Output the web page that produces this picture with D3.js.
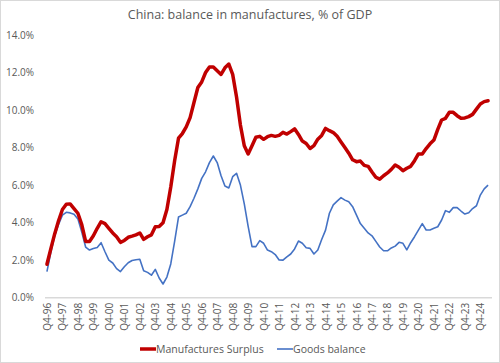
<!DOCTYPE html>
<html>
<head>
<meta charset="utf-8">
<script src="https://cdn.jsdelivr.net/npm/d3@7"></script>
<style>
  body { margin: 0; background: #fff; }
  svg { display: block; font-family: "Open Sans", "Liberation Sans", sans-serif; }
</style>
</head>
<body>
<div class="chart"></div>
<script>
// quarterly, Q4-96 onwards (% of GDP)
const manufSurplus = [
  1.78, 2.6, 3.4, 4.1, 4.7, 4.98, 5.0, 4.75, 4.5, 3.9,
  3.0, 3.0, 3.3, 3.7, 4.05, 3.95, 3.7, 3.45, 3.25, 2.95,
  3.05, 3.22, 3.28, 3.35, 3.45, 3.11, 3.25, 3.35, 3.78, 3.8,
  4.0, 4.7, 5.9, 7.3, 8.5, 8.75, 9.1, 9.6, 10.4, 11.2,
  11.5, 12.0, 12.3, 12.3, 12.1, 11.9, 12.25, 12.45, 11.9, 10.7,
  9.2, 8.1, 7.66, 8.1, 8.55, 8.6, 8.44, 8.58, 8.65, 8.6,
  8.65, 8.81, 8.72, 8.85, 9.0, 8.7, 8.35, 8.22, 7.95, 8.1,
  8.45, 8.65, 9.02, 8.9, 8.8, 8.6, 8.3, 8.0, 7.7, 7.35,
  7.25, 7.28, 7.05, 7.0, 6.7, 6.42, 6.32, 6.5, 6.65, 6.84,
  7.07, 6.95, 6.77, 6.9, 7.0, 7.3, 7.66, 7.66, 7.95, 8.2,
  8.4, 8.97, 9.47, 9.56, 9.88, 9.88, 9.7, 9.56, 9.58, 9.65,
  9.77, 10.05, 10.32, 10.45, 10.5
];
const goodsBalance = [
  1.39, 2.4, 3.3, 3.9, 4.4, 4.55, 4.52, 4.45, 4.2, 3.5,
  2.7, 2.54, 2.62, 2.68, 2.93, 2.45, 2.0, 1.85, 1.55, 1.39,
  1.65, 1.86, 1.98, 2.02, 2.05, 1.44, 1.35, 1.2, 1.51, 1.05,
  0.73, 1.1, 1.8, 3.0, 4.3, 4.4, 4.5, 4.85, 5.3, 5.8,
  6.36, 6.71, 7.2, 7.55, 7.2, 6.5, 5.95, 5.85, 6.45, 6.63,
  6.0, 5.0, 3.8, 2.72, 2.72, 3.04, 2.9, 2.54, 2.45, 2.3,
  2.01, 2.0, 2.18, 2.33, 2.6, 3.02, 2.9, 2.66, 2.63, 2.33,
  2.54, 3.1, 3.6, 4.5, 4.95, 5.15, 5.33, 5.2, 5.11, 4.85,
  4.4, 3.95, 3.7, 3.45, 3.3, 3.0, 2.7, 2.5, 2.5, 2.65,
  2.75, 2.95, 2.9, 2.55, 2.93, 3.25, 3.6, 3.95, 3.61, 3.61,
  3.7, 3.78, 4.14, 4.64, 4.55, 4.8, 4.8, 4.62, 4.46, 4.53,
  4.75, 4.9, 5.47, 5.8, 6.0
];
const yTicks = [0, 2, 4, 6, 8, 10, 12, 14];

// quarter labels Q4-96, Q1-97, ...
const quarters = manufSurplus.map(function(d, i) {
  const q = (3 + i) % 4 + 1;
  const yr = (1996 + Math.floor((3 + i) / 4)) % 100;
  return "Q" + q + "-" + String(yr).padStart(2, "0");
});
const xTicks = quarters.filter(function(d) { return d.startsWith("Q4"); });

const w = 500;
const h = 363;
const plotLeft = 45, plotRight = 490, plotTop = 35, plotBottom = 297.7;

const svg = d3.select(".chart")
  .append("svg")
  .attr("width", w)
  .attr("height", h);

svg.append("rect")
  .attr("x", 0.5).attr("y", 0.5)
  .attr("width", w - 1).attr("height", h - 1)
  .attr("fill", "#fff")
  .attr("stroke", "#d9d9d9");

svg.append("text")
  .attr("x", 250).attr("y", 19)
  .attr("text-anchor", "middle")
  .attr("font-size", 12.5)
  .attr("fill", "#595959")
  .text("China: balance in manufactures, % of GDP");

const x = d3.scalePoint()
  .domain(quarters)
  .range([plotLeft, plotRight])
  .padding(0.5);

const y = d3.scaleLinear()
  .domain([0, 14])
  .range([plotBottom, plotTop]);

// y axis labels only
const yAxis = svg.append("g")
  .attr("transform", "translate(" + (plotLeft - 11) + ",0)")
  .call(d3.axisLeft(y).tickValues(yTicks).tickSize(0).tickPadding(0)
    .tickFormat(function(d) { return d.toFixed(1) + "%"; }));
yAxis.select(".domain").remove();
yAxis.selectAll("text")
  .attr("font-size", 10)
  .attr("font-family", "'Open Sans', sans-serif")
  .attr("fill", "#595959");

// x axis
const xAxis = svg.append("g")
  .attr("transform", "translate(0," + plotBottom + ")")
  .call(d3.axisBottom(x).tickValues(xTicks).tickSize(0).tickPadding(0));
xAxis.select(".domain")
  .attr("d", "M" + plotLeft + ",0H" + (plotRight + 2))
  .attr("stroke", "#d9d9d9")
  .attr("stroke-width", 1.5);
xAxis.selectAll("text")
  .attr("font-size", 10)
  .attr("font-family", "'Open Sans', sans-serif")
  .attr("fill", "#595959")
  .attr("text-anchor", "end")
  .attr("dy", "0.35em")
  .attr("transform", "translate(0,5) rotate(-90)");

const line = function(arr) {
  return d3.line()
    .x(function(d, i) { return x(quarters[i]); })
    .y(function(d) { return y(d); })(arr);
};

svg.append("path")
  .attr("d", line(goodsBalance))
  .attr("fill", "none")
  .attr("stroke", "#4472c4")
  .attr("stroke-width", 1.6)
  .attr("stroke-linejoin", "round");

svg.append("path")
  .attr("d", line(manufSurplus))
  .attr("fill", "none")
  .attr("stroke", "#c00000")
  .attr("stroke-width", 3.5)
  .attr("stroke-linejoin", "round")
  .attr("stroke-linecap", "round");

// legend
const legend = [
  {name: "Manufactures Surplus", color: "#c00000", width: 3.5, x: 140},
  {name: "Goods balance", color: "#4472c4", width: 1.6, x: 277}
];
const lg = svg.selectAll(".leg")
  .data(legend)
  .enter()
  .append("g")
  .attr("transform", function(d) { return "translate(" + d.x + ",349)"; });
lg.append("line")
  .attr("x1", 0).attr("x2", 16)
  .attr("stroke", function(d) { return d.color; })
  .attr("stroke-width", function(d) { return d.width; });
lg.append("text")
  .attr("x", 16).attr("dy", "0.35em")
  .attr("font-size", 10.5)
  .attr("fill", "#595959")
  .text(function(d) { return d.name; });
</script>
</body>
</html>
